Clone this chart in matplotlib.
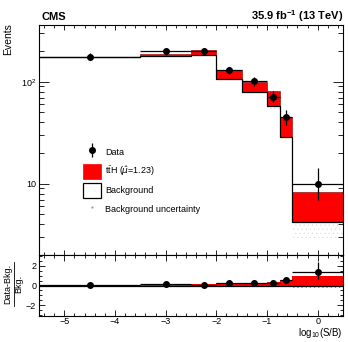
import numpy as np
import matplotlib
matplotlib.use("Agg")
import matplotlib.pyplot as plt
from matplotlib.lines import Line2D
from matplotlib.patches import Patch
from matplotlib.ticker import FixedLocator, FixedFormatter, MultipleLocator, LogLocator, NullFormatter

plt.rcParams['font.family'] = ['Liberation Sans', 'DejaVu Sans']
plt.rcParams['mathtext.fontset'] = 'custom'
plt.rcParams['mathtext.rm'] = 'Liberation Sans'
plt.rcParams['mathtext.bf'] = 'Liberation Sans:bold'
plt.rcParams['hatch.linewidth'] = 0.3

# bins in log10(S/B)
edges = np.array([-5.5, -3.5, -2.5, -2.0, -1.5, -1.0, -0.75, -0.5, 0.5])
bkg = np.array([174, 177, 184, 107, 78.5, 57.3, 28.7, 4.24])
sig = np.array([2, 10, 22, 24, 21.5, 23, 16, 4.1])
bkg_unc = np.array([0.02, 0.03, 0.03, 0.04, 0.05, 0.06, 0.08, 0.3])  # relative
data = np.array([176, 198, 201, 129, 101, 71, 44.7, 10])
data_err_lo = np.array([13, 14, 14, 11, 10, 8.4, 6.7, 3.1])
data_err_hi = np.array([14, 15, 15, 12, 11, 9.4, 7.7, 4.3])

centers = 0.5 * (edges[1:] + edges[:-1])
widths = edges[1:] - edges[:-1]

W, H = 348, 342
fig = plt.figure(figsize=(W / 100, H / 100), dpi=100)
x0, x1 = 39, 343
ax = fig.add_axes([x0 / W, 1 - 255 / H, (x1 - x0) / W, (255 - 25) / H])
axr = fig.add_axes([x0 / W, 1 - 316 / H, (x1 - x0) / W, (316 - 255) / H], sharex=ax)

# --- main panel
ax.set_yscale('log')
ax.bar(centers, 2 * bkg * bkg_unc, widths, bottom=bkg * (1 - bkg_unc), facecolor='none',
       edgecolor='#d8d8d8', hatch='....', lw=0, zorder=1.5)
ax.bar(centers, sig, widths, bottom=bkg, color='red', edgecolor='#7a0000', lw=0.4, zorder=2)
ax.stairs(bkg, edges, baseline=None, color='black', lw=0.9, zorder=3)
ax.errorbar(centers, data, xerr=widths / 2, yerr=[data_err_lo, data_err_hi], fmt='o',
            color='black', ms=4, elinewidth=0.9, capsize=0, zorder=4)
ax.set_xlim(-5.5, 0.5)
ax.set_ylim(2, 360)
ax.yaxis.set_major_locator(FixedLocator([10, 100]))
ax.yaxis.set_major_formatter(FixedFormatter(['10', '$10^2$']))
ax.yaxis.set_minor_locator(LogLocator(base=10, subs=np.arange(2, 10)))
ax.yaxis.set_minor_formatter(NullFormatter())
ax.tick_params(axis='x', labelbottom=False)

h_data = (Line2D([], [], ls='none', marker='|', ms=10, mew=0.9, color='k'),
          Line2D([], [], ls='none', marker='o', ms=4, color='k'))
h_sig = Patch(facecolor='red', edgecolor='red', lw=0.5)
h_bkg = Patch(facecolor='white', edgecolor='black', lw=0.9)
h_unc = Line2D([], [], ls='none', marker='.', ms=1, color='#888888')
ax.legend([h_data, h_sig, h_bkg, h_unc],
          ['Data', r't$\bar{\mathrm{t}}$H ($\hat{\mu}$=1.23)', 'Background', 'Background uncertainty'],
          loc='upper left', bbox_to_anchor=(83 / W, 1 - 145 / H), bbox_transform=fig.transFigure,
          frameon=False, fontsize=6.5, handlelength=2.0, handleheight=2.2, labelspacing=0.43,
          handletextpad=0.45, borderpad=0, borderaxespad=0)

# --- ratio panel
axr.bar(centers, 2 * bkg_unc, widths, bottom=-bkg_unc, facecolor='none',
        edgecolor='#888888', hatch='....', lw=0, zorder=1.5)
axr.bar(centers, sig / bkg, widths, bottom=0, color='red', lw=0, zorder=2)
axr.axhline(0, color='black', lw=0.9, zorder=3)
axr.errorbar(centers, (data - bkg) / bkg, xerr=widths / 2,
             yerr=[data_err_lo / bkg, data_err_hi / bkg], fmt='o', color='black',
             ms=4, elinewidth=0.9, capsize=0, zorder=4)
axr.set_ylim(-3.1, 3.1)
axr.yaxis.set_major_locator(FixedLocator([-2, 0, 2]))
axr.yaxis.set_minor_locator(MultipleLocator(0.5))
axr.xaxis.set_major_locator(MultipleLocator(1))
axr.xaxis.set_minor_locator(MultipleLocator(0.2))

for a in (ax, axr):
    a.tick_params(which='both', direction='in', top=True, right=True, labelsize=6.5,
                  width=0.6, pad=2)
    for s in a.spines.values():
        s.set_linewidth(0.8)
ax.tick_params(axis='x', which='major', length=3.6)
ax.tick_params(axis='x', which='minor', length=2.2)
ax.tick_params(axis='y', which='major', length=7)
ax.tick_params(axis='y', which='minor', length=3.6)
axr.tick_params(axis='both', which='major', length=4.3)
axr.tick_params(axis='both', which='minor', length=2.2)
axr.tick_params(axis='x', pad=1)

# --- labels
fig.text(42 / W, 1 - 20.5 / H, 'CMS', fontsize=8, fontweight='bold', ha='left', va='baseline')
fig.text(343 / W, 1 - 20.5 / H, r'35.9 fb$^{\mathbf{-1}}$ (13 TeV)', fontsize=8,
         fontweight='bold', ha='right', va='baseline')
fig.text(8 / W, 1 - 23 / H, 'Events', fontsize=7.5, rotation=90, ha='center', va='top')
fig.text(343 / W, 1 - 336.5 / H, r'log$_{10}$(S/B)', fontsize=7, ha='right', va='baseline')
fig.text(8 / W, 1 - 284 / H, 'Data-Bkg.', fontsize=6.5, rotation=90, ha='center', va='center')
fig.text(18.5 / W, 1 - 284 / H, 'Bkg.', fontsize=6.5, rotation=90, ha='center', va='center')
fig.add_artist(Line2D([13.5 / W, 13.5 / W], [1 - 262 / H, 1 - 306 / H], color='black', lw=0.6))

fig.savefig('out.png', dpi=100)
